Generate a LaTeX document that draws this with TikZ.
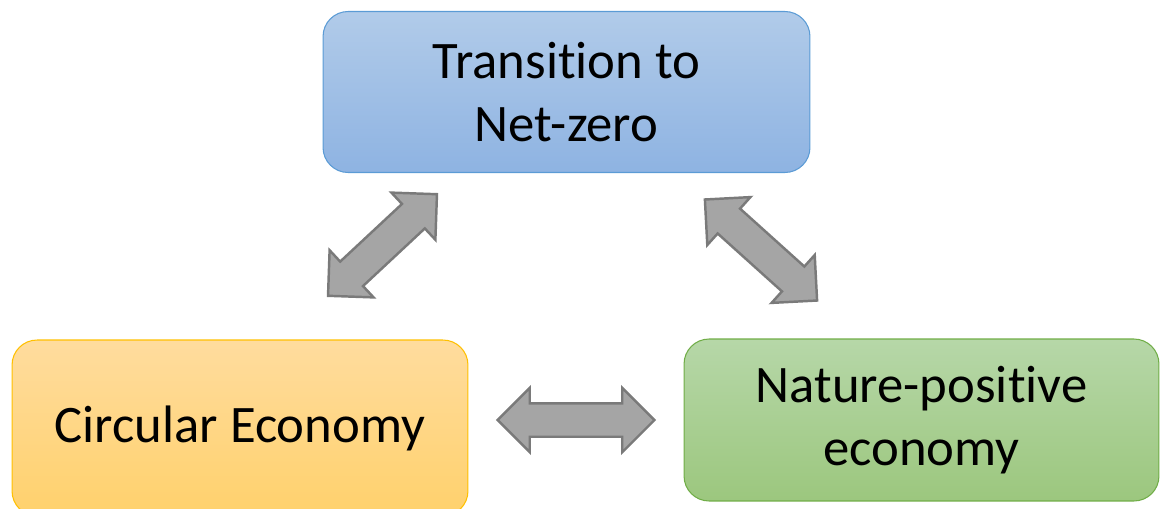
\documentclass[tikz,border=0pt]{standalone}
\usepackage{fontspec}
\setmainfont{Carlito}[Ligatures=NoCommon]
\usetikzlibrary{shapes.arrows}

\definecolor{netzeroTop}{HTML}{B1CBE9}
\definecolor{netzeroBot}{HTML}{8EB3E2}
\definecolor{netzeroLine}{HTML}{5B9BD5}
\definecolor{circTop}{HTML}{FFDC9E}
\definecolor{circBot}{HTML}{FFD16C}
\definecolor{circLine}{HTML}{FFC000}
\definecolor{natureTop}{HTML}{B6D7A8}
\definecolor{natureBot}{HTML}{9CC77E}
\definecolor{natureLine}{HTML}{70AD47}
\definecolor{arrowFill}{HTML}{A5A5A5}
\definecolor{arrowLine}{HTML}{7A7A7A}

\begin{document}
\begin{tikzpicture}[x=0.02cm,y=-0.02cm,
                goal box/.style={rectangle,rounded corners=0.5cm,line width=0.6pt,
                  align=center,inner sep=0pt,font=\fontsize{30}{35.5}\selectfont},
                link arrow/.style={double arrow,draw=arrowLine,fill=arrowFill,line width=1.4pt,
                  double arrow head extend=0.31cm,inner xsep=0pt,inner ysep=0.31cm,
                  double arrow tip angle=90}]
	\useasboundingbox (0,0) rectangle (1160,508);

	\node[goal box,draw=netzeroLine,top color=netzeroTop,bottom color=netzeroBot,
	      minimum width=9.74cm,minimum height=3.22cm] (netzero) at (566.5,92) {Transition to\\Net-zero};
	\node[goal box,draw=circLine,top color=circTop,bottom color=circBot,
	      minimum width=9.12cm,minimum height=3.52cm] (circular) at (240,428) {Circular Economy};
	\node[goal box,draw=natureLine,top color=natureTop,bottom color=natureBot,
	      minimum width=9.5cm,minimum height=3.24cm] (nature) at (921.5,420) {Nature-positive\\economy};

	\node[link arrow,minimum height=2.98cm,rotate=43] (netzero-circular) at (382.5,245) {};
	\node[link arrow,minimum height=3.02cm,rotate=-42] (netzero-nature) at (761,250) {};
	\node[link arrow,minimum height=3.14cm] (circular-nature) at (576,420) {};

\end{tikzpicture}
\end{document}
